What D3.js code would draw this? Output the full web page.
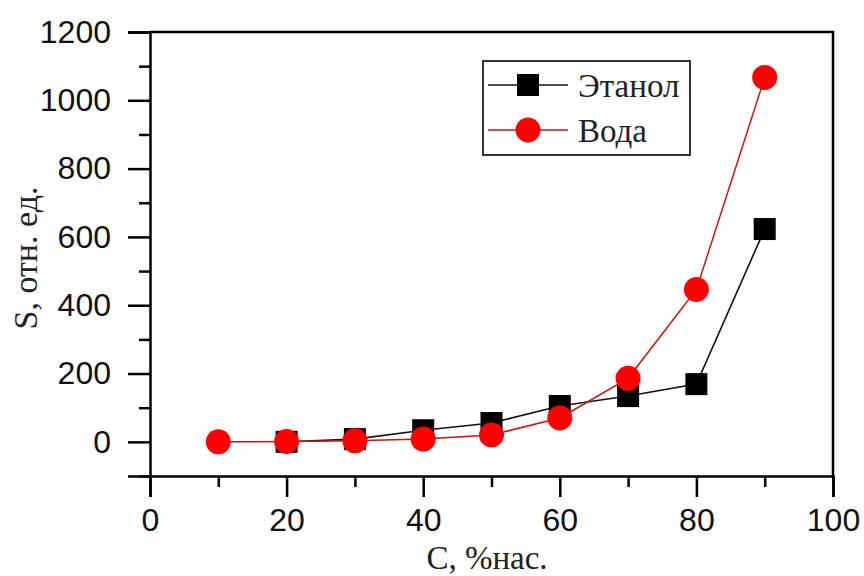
<!DOCTYPE html>
<html>
<head>
<meta charset="utf-8">
<script src="https://cdn.jsdelivr.net/npm/d3@7"></script>
<style>
  body { margin: 0; background: #fff; }
  svg { display: block; }
</style>
</head>
<body>
<svg id="chart" width="864" height="576"></svg>
<script>
// ---- data ----
const ethanolX = [20, 30, 40, 50, 60, 70, 80, 90];
const ethanolY = [0, 8, 34, 55, 105, 134, 169, 623];
const waterX = [10, 20, 30, 40, 50, 60, 70, 80, 90];
const waterY = [0, 1, 3, 8, 20, 70, 186, 446, 1067];
const seriesNames = ["Этанол", "Вода"];
const xTicks = [0, 20, 40, 60, 80, 100];
const xMinorTicks = [10, 30, 50, 70, 90];
const yTicks = [0, 200, 400, 600, 800, 1000, 1200];
const yMinorTicks = [-100, 100, 300, 500, 700, 900, 1100];
const xTitle = "C, %нас.";
const yTitle = "S, отн. ед.";

// ---- layout ----
const L = 150, R = 833, T = 32, B = 476;
const svg = d3.select("#chart");
const x = d3.scaleLinear().domain([0, 100]).range([L, R]);
const y = d3.scaleLinear().domain([-100, 1200]).range([B, T]);

const sans = "'Liberation Sans', Arial, sans-serif";
const serif = "'Liberation Serif', 'Times New Roman', serif";

// frame (top & right)
svg.append("path")
  .attr("d", `M${L},${T} H${R} V${B}`)
  .attr("fill", "none").attr("stroke", "#000").attr("stroke-width", 2.5);

// x axis: minor, then major
const gxm = svg.append("g").attr("transform", `translate(0,${B})`)
  .call(d3.axisBottom(x).tickValues(xMinorTicks).tickSize(11).tickFormat(""));
const gx = svg.append("g").attr("transform", `translate(0,${B})`)
  .call(d3.axisBottom(x).tickValues(xTicks).tickSize(21).tickPadding(11).tickFormat(d3.format("d")));
// y axis
const gym = svg.append("g").attr("transform", `translate(${L},0)`)
  .call(d3.axisLeft(y).tickValues(yMinorTicks).tickSize(11).tickFormat(""));
const gy = svg.append("g").attr("transform", `translate(${L},0)`)
  .call(d3.axisLeft(y).tickValues(yTicks).tickSize(22).tickPadding(17).tickFormat(d3.format("d")));

[gxm, gx, gym, gy].forEach(g => {
  g.selectAll(".domain").attr("stroke", "#000").attr("stroke-width", 2.5);
  g.selectAll(".tick line").attr("stroke", "#000").attr("stroke-width", 2.5);
  g.selectAll(".tick text").attr("fill", "#111").style("font-family", sans).style("font-size", "32px");
});
gym.select(".domain").remove();
gxm.select(".domain").remove();

// lines and markers
const line = d3.line().x(d => x(d[0])).y(d => y(d[1]));
const ethanol = ethanolX.map((v, i) => [v, ethanolY[i]]);
const water = waterX.map((v, i) => [v, waterY[i]]);
const sq = 22, rad = 12.5;

svg.append("path").datum(ethanol).attr("d", line)
  .attr("fill", "none").attr("stroke", "#111").attr("stroke-width", 1.6);
svg.selectAll("rect.eth").data(ethanol).enter().append("rect").attr("class", "eth")
  .attr("x", d => x(d[0]) - sq / 2).attr("y", d => y(d[1]) - sq / 2)
  .attr("width", sq).attr("height", sq).attr("fill", "#000");

svg.append("path").datum(water).attr("d", line)
  .attr("fill", "none").attr("stroke", "#d01010").attr("stroke-width", 1.5);
svg.selectAll("circle.wat").data(water).enter().append("circle").attr("class", "wat")
  .attr("cx", d => x(d[0])).attr("cy", d => y(d[1])).attr("r", rad)
  .attr("fill", "#ff0000");

// legend
const lg = svg.append("g");
lg.append("rect").attr("x", 483).attr("y", 61).attr("width", 207).attr("height", 94)
  .attr("fill", "#fff").attr("stroke", "#333").attr("stroke-width", 2);
const items = [
  { name: seriesNames[0], y: 85, color: "#111", shape: "square" },
  { name: seriesNames[1], y: 130, color: "#d01010", shape: "circle" }
];
items.forEach(it => {
  lg.append("line").attr("x1", 488).attr("x2", 568).attr("y1", it.y).attr("y2", it.y)
    .attr("stroke", it.color).attr("stroke-width", 1.6);
  if (it.shape === "square") {
    lg.append("rect").attr("x", 528 - sq / 2).attr("y", it.y - sq / 2)
      .attr("width", sq).attr("height", sq).attr("fill", "#000");
  } else {
    lg.append("circle").attr("cx", 528).attr("cy", it.y).attr("r", rad).attr("fill", "#ff0000");
  }
  lg.append("text").attr("x", 578).attr("y", it.y + 12)
    .style("font-family", serif).style("font-size", "33px").attr("fill", "#222")
    .text(it.name);
});

// axis titles
svg.append("text").attr("x", 487).attr("y", 569).attr("text-anchor", "middle")
  .style("font-family", serif).style("font-size", "33px").attr("fill", "#222").text(xTitle);
svg.append("text").attr("transform", "translate(37,258) rotate(-90)").attr("text-anchor", "middle")
  .style("font-family", serif).style("font-size", "34px").attr("fill", "#222").text(yTitle);
</script>
</body>
</html>
